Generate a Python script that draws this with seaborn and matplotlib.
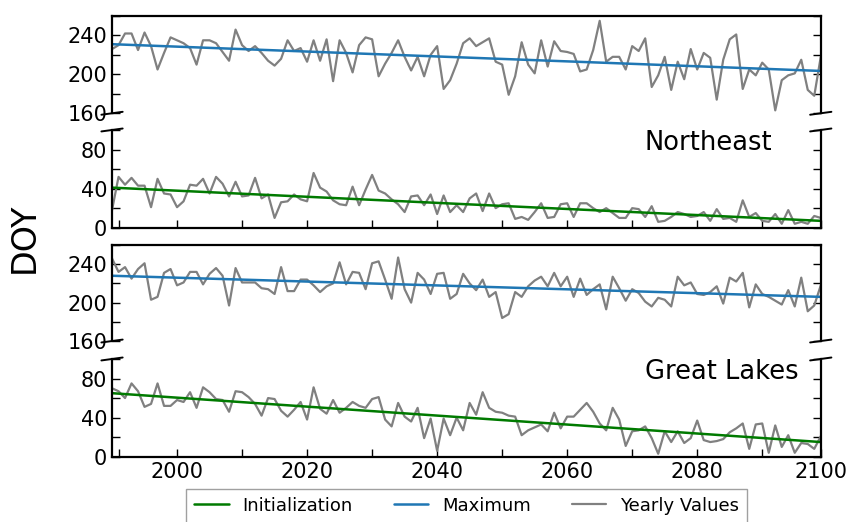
import numpy as np
import pandas as pd
import matplotlib
matplotlib.use("Agg")
import matplotlib.pyplot as plt
from matplotlib.ticker import MultipleLocator
import seaborn as sns

# ---------------- data ----------------
years = list(range(1990, 2100))

ne_max = [226, 230, 242, 242, 225, 243, 229, 205, 222, 238, 235, 232, 227, 210, 235, 235, 232, 223, 214, 246,
          230, 224, 229, 222, 214, 209, 216, 235, 224, 227, 213, 235, 214, 236, 193, 235, 222, 202, 230, 238,
          236, 198, 211, 222, 235, 218, 204, 218, 198, 220, 229, 185, 194, 211, 232, 237, 229, 233, 237, 213,
          210, 179, 198, 233, 210, 201, 235, 208, 234, 224, 223, 221, 203, 205, 225, 255, 213, 218, 218, 205,
          229, 224, 237, 187, 199, 218, 184, 213, 195, 226, 205, 222, 217, 174, 215, 236, 241, 185, 205, 199,
          212, 205, 163, 194, 199, 201, 215, 184, 178, 218]

ne_init = [18, 52, 44, 51, 43, 43, 21, 50, 35, 34, 21, 27, 44, 43, 50, 35, 52, 45, 32, 47,
           32, 33, 51, 30, 34, 10, 26, 27, 34, 29, 27, 56, 41, 37, 28, 24, 23, 42, 23, 39,
           54, 38, 35, 29, 24, 16, 32, 33, 23, 34, 14, 33, 16, 23, 16, 30, 35, 17, 35, 20,
           24, 25, 9, 11, 8, 16, 25, 10, 11, 24, 25, 11, 25, 25, 20, 16, 20, 15, 10, 10,
           20, 19, 11, 22, 6, 7, 11, 16, 14, 11, 12, 16, 7, 19, 9, 10, 6, 28, 11, 15,
           7, 6, 14, 4, 18, 4, 6, 4, 12, 10]

gl_max = [246, 232, 237, 225, 235, 241, 203, 206, 231, 235, 218, 221, 232, 232, 219, 230, 236, 228, 197, 236,
          221, 221, 221, 215, 214, 209, 237, 212, 212, 224, 224, 218, 211, 217, 220, 242, 219, 232, 231, 214,
          241, 243, 224, 204, 247, 214, 200, 231, 224, 209, 230, 231, 204, 209, 230, 220, 213, 224, 206, 211,
          184, 188, 211, 206, 217, 223, 227, 217, 231, 217, 227, 206, 225, 208, 214, 219, 193, 227, 215, 202,
          214, 210, 201, 196, 205, 203, 196, 227, 218, 221, 209, 208, 211, 217, 199, 226, 222, 231, 195, 219,
          209, 206, 202, 198, 213, 196, 226, 191, 197, 218]

gl_init = [70, 67, 60, 75, 67, 51, 54, 75, 52, 52, 58, 56, 66, 50, 71, 66, 59, 58, 46, 67,
           66, 61, 54, 42, 60, 59, 47, 41, 48, 56, 38, 71, 49, 44, 58, 45, 50, 56, 52, 50,
           59, 61, 38, 31, 55, 41, 36, 50, 19, 39, 6, 39, 22, 40, 27, 55, 43, 66, 50, 46,
           45, 42, 41, 22, 27, 30, 33, 26, 45, 29, 41, 41, 48, 55, 46, 34, 27, 50, 38, 11,
           26, 27, 31, 19, 3, 26, 15, 26, 14, 19, 37, 17, 15, 16, 18, 25, 29, 34, 8, 33,
           34, 4, 32, 10, 22, 4, 14, 13, 8, 21]

# trend lines: start / end values (first and last year)
trend_years = [1990, 2099]
ne_max_trend = [231, 203.5]
ne_init_trend = [41, 7]
gl_max_trend = [228, 206]
gl_init_trend = [65, 15]

regions = ["Northeast", "Great Lakes"]
legend_labels = ["Initialization", "Maximum", "Yearly Values"]
xtick_pos = [1991, 2000, 2010, 2020, 2030, 2040, 2050, 2060, 2070, 2080, 2090, 2099]
xtick_lab = ["", "2000", "", "2020", "", "2040", "", "2060", "", "2080", "", "2100"]

# ---------------- style ----------------
sns.set_style("ticks")
plt.rcParams["font.family"] = ["DejaVu Sans"]
plt.rcParams["text.color"] = "black"
plt.rcParams["axes.labelcolor"] = "black"
plt.rcParams["xtick.color"] = "black"
plt.rcParams["ytick.color"] = "black"

GREEN = "#007a00"
BLUE = "#1f77b4"
GREY = "#808080"

fig = plt.figure(figsize=(8.5, 5.22), dpi=100)
L, W = 0.1318, 0.8338
rects = [(L, 0.7830, W, 0.1864), (L, 0.5638, W, 0.1872),
         (L, 0.3467, W, 0.1839), (L, 0.1251, W, 0.1872)]
axes = [fig.add_axes(r) for r in rects]

series = [
    (ne_max, ne_max_trend, BLUE, (160, 260)),
    (ne_init, ne_init_trend, GREEN, (0, 100)),
    (gl_max, gl_max_trend, BLUE, (160, 260)),
    (gl_init, gl_init_trend, GREEN, (0, 100)),
]

handles = {}
for k, (ax, (vals, trend, col, ylim)) in enumerate(zip(axes, series)):
    df = pd.DataFrame({"year": years, "doy": vals})
    sns.lineplot(data=df, x="year", y="doy", ax=ax, color=GREY, lw=1.6, legend=False)
    tdf = pd.DataFrame({"year": trend_years, "doy": trend})
    sns.lineplot(data=tdf, x="year", y="doy", ax=ax, color=col, lw=1.8, legend=False)
    lines = ax.get_lines()
    handles["Yearly Values"] = lines[0]
    handles["Maximum" if col == BLUE else "Initialization"] = lines[1]

    ax.set_xlim(1990, 2099)
    ax.set_ylim(*ylim)
    ax.set_xlabel("")
    ax.set_ylabel("")
    ax.yaxis.set_major_locator(MultipleLocator(40))
    ax.yaxis.set_minor_locator(MultipleLocator(20))
    for sp in ax.spines.values():
        sp.set_linewidth(1.6)
        sp.set_color("black")
    ax.tick_params(axis="both", which="both", direction="in", length=6, width=1,
                   labelsize=15, right=True, top=False, colors="black")
    ax.set_xticks(xtick_pos)
    d = 0.015
    kw = dict(transform=ax.transAxes, color="black", clip_on=False, lw=1.4)
    if k % 2 == 0:  # upper part of a broken pair
        ax.spines["bottom"].set_visible(False)
        ax.tick_params(axis="x", which="both", bottom=False, labelbottom=False)
        ax.plot((-d, +d), (-d, +d), **kw)
        ax.plot((1 - d, 1 + d), (-d, +d), **kw)
    else:  # lower part
        ax.spines["top"].set_visible(False)
        ax.plot((-d, +d), (1 - d, 1 + d), **kw)
        ax.plot((1 - d, 1 + d), (1 - d, 1 + d), **kw)
        if k == 3:
            ax.set_xticklabels(xtick_lab)
        else:
            ax.tick_params(axis="x", labelbottom=False)
        ax.text(0.752, 0.795, regions[k // 2], transform=ax.transAxes,
                ha="left", va="baseline", fontsize=18.5, color="black")

fig.text(0.029, 0.545, "DOY", rotation=90, ha="center", va="center", fontsize=24,
         color="black")

leg = fig.legend([handles[l] for l in legend_labels], legend_labels,
                 loc="upper center", bbox_to_anchor=(0.549, 0.064), ncol=3,
                 fontsize=13, frameon=True, fancybox=False, handlelength=1.9,
                 handletextpad=0.75, columnspacing=2.3, borderpad=0.45,
                 borderaxespad=0.0)
leg.get_frame().set_edgecolor("#888888")
leg.get_frame().set_linewidth(1.0)
for t in leg.get_texts():
    t.set_color("black")

fig.savefig("out.png", dpi=100)
